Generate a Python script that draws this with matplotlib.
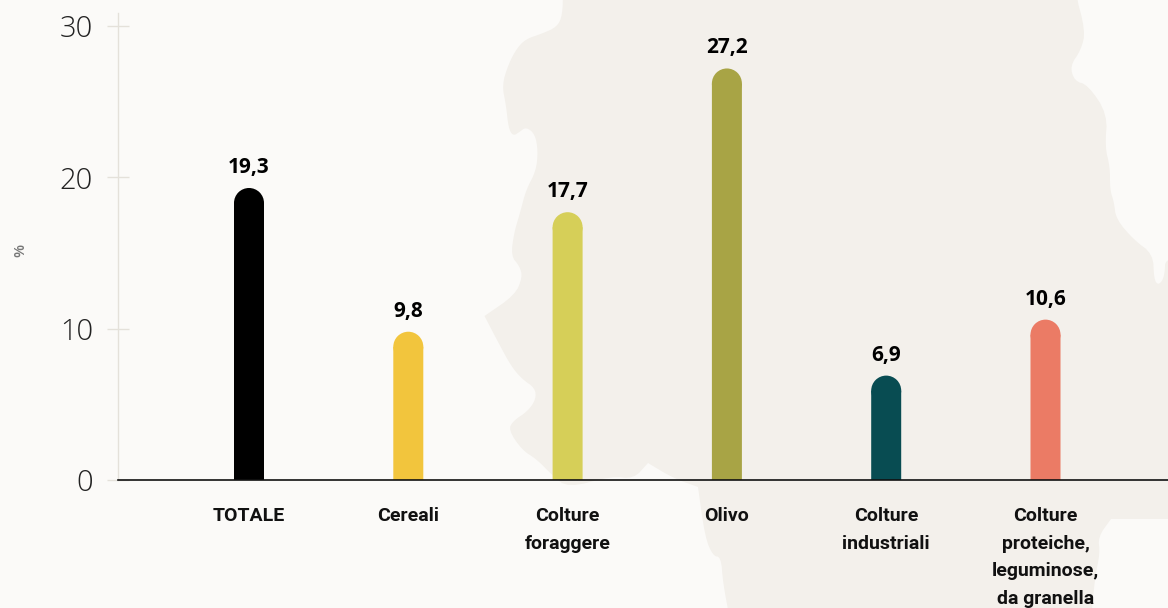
import matplotlib
matplotlib.use("Agg")
import matplotlib.pyplot as plt
from matplotlib.patches import Ellipse, Polygon

categories = ["TOTALE", "Cereali", "Colture\nforaggere", "Olivo", "Colture\nindustriali",
              "Colture\nproteiche,\nleguminose,\nda granella"]
values = [19.3, 9.8, 17.7, 27.2, 6.9, 10.6]
value_labels = ["19,3", "9,8", "17,7", "27,2", "6,9", "10,6"]
colors = ["#000000", "#F2C53D", "#D6CF58", "#A8A445", "#084C52", "#EB7B65"]
y_ticks = [0, 10, 20, 30]

# Background map silhouette, figure pixels from the top-left corner
map_px = [(563,-60),(563,-10),(562.5,15),(557,27),(541,34),(526,39),(517,48),(508.5,64),(502,85),(506,105),(508.5,128),
          (513,136),(519.5,132),(526,127),(535,134),(538,151),(536,171),(526,190),(520,213),(514,233),
          (511,256),(519.5,266),(522.5,277),(515,295),(484.5,316),(484.5,316),(497.5,341),(511,366),(522,379),
          (535,388),(536,399),(528,411),(513,421),(508.5,430),(522,450),(537,459.5),(552,475),(568,488),
          (611.6,476),(633.6,479),(648,463),(648,463),(673,478),(698,487),(698,487),(705,537),(713,556),(721,557),
          (723,583),(730,620),(730,680),(1085,680),(1091,620),(1095,577),(1100,553),(1098,537),(1111,519),(1111,519),
          (1240,519),(1240,258),(1172,258),(1165,262),(1165,270),(1163,280),(1158,285),(1154,279),(1153,254),
          (1134,240),(1116,219),(1114,202),(1110,190),
          (1110,167),(1105,147),(1107.5,114),(1088,85),(1074.5,81),(1070,66),(1081,50),(1085.5,31),(1074.5,-10),(1074.5,-60)]


def smooth(points, rounds=2):
    for _ in range(rounds):
        out = []
        for i, (x0, y0) in enumerate(points):
            x1, y1 = points[(i + 1) % len(points)]
            out += [(0.75 * x0 + 0.25 * x1, 0.75 * y0 + 0.25 * y1),
                    (0.25 * x0 + 0.75 * x1, 0.25 * y0 + 0.75 * y1)]
        points = out
    return points


W, H = 1168, 608
fig = plt.figure(figsize=(W / 100, H / 100), dpi=100, facecolor="#FBFAF8")
fig.add_artist(Polygon([(x / W, 1 - y / H) for x, y in smooth(map_px)], closed=True,
                       transform=fig.transFigure, facecolor="#F3F0EB", edgecolor="none", zorder=0))

ax_l, ax_r, ax_b, ax_t = 118, 1168, 480, 13
ax = fig.add_axes([ax_l / W, 1 - ax_b / H, (ax_r - ax_l) / W, (ax_b - ax_t) / H])
ax.patch.set_alpha(0)
step = 159.3
ax.set_xlim((ax_l - 249) / step, (ax_r - 249) / step)
ax.set_ylim(0, (ax_b - ax_t) / 15.13)

bar_w = 30 / step
ry = 15 / 15.13
xs = range(len(values))
for x, v, c, lab in zip(xs, values, colors, value_labels):
    ax.bar(x, v - ry, width=bar_w, color=c, linewidth=0, zorder=2, snap=False)
    ax.add_patch(Ellipse((x, v - ry), bar_w, 2 * ry, facecolor=c, edgecolor="none", zorder=2))
    ax.annotate(lab, (x, v), xytext=(0, 10), textcoords="offset pixels", ha="center", va="bottom",
                fontsize=15, fontweight="bold", family="Open Sans", color="#000000")

for s in ("top", "right"):
    ax.spines[s].set_visible(False)
ax.spines["left"].set_color("#E4E1DA")
ax.spines["left"].set_linewidth(1)
ax.spines["bottom"].set_color("#111111")
ax.spines["bottom"].set_linewidth(1.2)
ax.spines["bottom"].set_zorder(3)

ax.set_yticks(y_ticks)
ax.tick_params(axis="y", direction="inout", length=16, width=1, color="#E4E1DA", pad=10,
               labelsize=21, labelcolor="#222222")
for t in ax.get_yticklabels():
    t.set_family("Open Sans")
    t.set_fontweight("light")
ax.set_xticks(list(xs))
ax.set_xticklabels(categories, fontsize=14, fontweight="semibold", family="Roboto", color="#111111",
                   linespacing=1.68, stretch="condensed")
ax.tick_params(axis="x", length=0, pad=19.5)

fig.text(20 / W, 1 - 250 / H, "%", rotation=90, ha="center", va="center", fontsize=11,
         fontweight="semibold", family="Open Sans", color="#777777")
fig.savefig("out.png", dpi=100, facecolor=fig.get_facecolor())
